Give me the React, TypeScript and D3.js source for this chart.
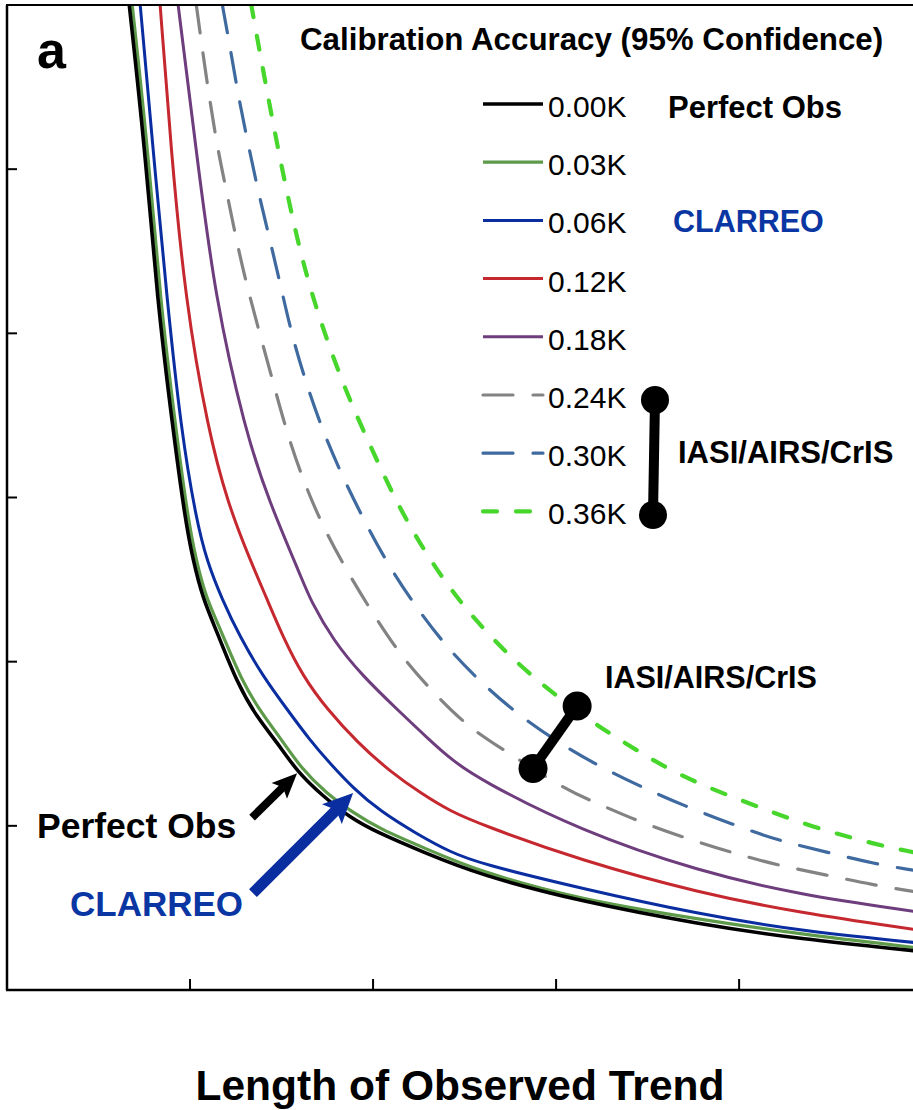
import { useEffect, useRef } from "react";
import * as d3 from "d3";

type Pt = [number, number];

// x = length of trend (years), y = arbitrary units (axis carries no labels)
const xTicks = [10, 20, 30, 40];
const yTicks = [1, 2, 3, 4, 5];

const cal000: Pt[] = [
  [6.67, 6.01], [7.54, 5.12], [8.2, 4.21], [9.07, 3.41], [9.73, 2.87], [10.16, 2.62],
  [10.71, 2.38], [11.48, 2.18], [12.57, 1.87], [13.66, 1.66], [14.75, 1.51], [15.85, 1.33],
  [17.27, 1.18], [18.74, 1.05], [20.22, 0.96], [22.73, 0.84], [25.85, 0.7], [31.31, 0.54],
  [37.87, 0.4], [43.33, 0.31], [49.51, 0.24],
];
const cal003: Pt[] = [
  [6.83, 6.01], [7.7, 5.12], [8.36, 4.21], [9.23, 3.41], [9.89, 2.87], [10.33, 2.62],
  [10.87, 2.39], [11.69, 2.19], [12.79, 1.89], [13.88, 1.69], [14.97, 1.53], [16.07, 1.35],
  [17.43, 1.2], [18.91, 1.08], [20.38, 0.98], [22.9, 0.86], [25.85, 0.72], [31.31, 0.55],
  [37.87, 0.43], [43.33, 0.34], [49.51, 0.26],
];
const cal006: Pt[] = [
  [7.27, 6.01], [7.98, 5.12], [8.74, 4.21], [9.51, 3.41], [10.33, 2.87], [10.93, 2.61],
  [11.75, 2.38], [12.73, 2.15], [13.99, 1.91], [15.3, 1.71], [16.56, 1.52], [17.65, 1.38],
  [18.91, 1.23], [20.38, 1.09], [22.4, 0.95], [24.21, 0.84], [25.85, 0.77], [31.31, 0.62],
  [37.87, 0.46], [43.33, 0.36], [49.51, 0.29],
];
const cal012: Pt[] = [
  [8.36, 6.01], [8.96, 5.12], [9.73, 4.21], [10.98, 3.41], [12.08, 2.96], [13.17, 2.65],
  [14.21, 2.38], [15.08, 2.15], [16.17, 1.91], [17.49, 1.71], [19.13, 1.51], [20.93, 1.33],
  [22.73, 1.19], [24.21, 1.09], [25.85, 1.01], [31.31, 0.79], [37.87, 0.59], [43.33, 0.47],
  [49.51, 0.37],
];
const cal018: Pt[] = [
  [9.34, 6.01], [10.33, 5.12], [11.37, 4.21], [13.01, 3.41], [14.26, 2.99], [16.17, 2.49],
  [16.56, 2.38], [17.81, 2.13], [19.45, 1.91], [21.31, 1.71], [23.11, 1.52], [24.32, 1.4],
  [25.85, 1.28], [31.31, 0.97], [37.87, 0.72], [43.33, 0.58], [49.51, 0.48],
];
const cal024: Pt[] = [
  [10.33, 6.01], [10.71, 5.7], [11.09, 5.41], [11.53, 5.11], [12.08, 4.82], [12.62, 4.52],
  [13.22, 4.24], [13.93, 3.95], [14.64, 3.66], [15.36, 3.37], [16.23, 3.09], [17.27, 2.82],
  [18.58, 2.55], [19.95, 2.3], [21.48, 2.04], [23.22, 1.82], [25.19, 1.6], [27.32, 1.45],
  [30.38, 1.23], [31.97, 1.15], [34.43, 1.03], [36.94, 0.93], [39.51, 0.84], [42.08, 0.76],
  [44.81, 0.7], [47.32, 0.64], [49.51, 0.6],
];
const cal030: Pt[] = [
  [11.75, 6.01], [12.24, 5.71], [12.68, 5.42], [13.22, 5.13], [13.77, 4.84], [14.43, 4.54],
  [15.03, 4.25], [15.63, 3.96], [16.39, 3.68], [17.27, 3.4], [18.36, 3.12], [19.56, 2.85],
  [20.82, 2.59], [22.3, 2.34], [23.93, 2.1], [25.74, 1.89], [27.76, 1.69], [30.22, 1.5],
  [32.24, 1.37], [34.59, 1.24], [37.05, 1.12], [39.62, 1.01], [42.13, 0.91], [44.81, 0.84],
  [47.32, 0.77], [49.51, 0.73],
];
const cal036: Pt[] = [
  [13.33, 6.01], [14.37, 5.37], [15.46, 4.76], [16.56, 4.25], [18.36, 3.68], [19.95, 3.29],
  [21.53, 2.91], [23.55, 2.54], [25.57, 2.25], [28.2, 1.95], [31.31, 1.68], [33.66, 1.51],
  [36.78, 1.3], [40.44, 1.14], [44.04, 0.99], [47.7, 0.88], [49.51, 0.84],
];

const labels = ["0.00K", "0.03K", "0.06K", "0.12K", "0.18K", "0.24K", "0.30K", "0.36K"];
const colors = ["#000000", "#5d9a4a", "#0a2ea0", "#c5282f", "#6e3d7d", "#838383", "#3f6aa0", "#47d62b"];
const dashes = [null, null, null, null, null, "30 20", "30 20", "14 19"];
const widths = [3.6, 3.2, 3, 3, 3, 3.2, 3.2, 4.2];
const seriesData = [cal000, cal003, cal006, cal012, cal018, cal024, cal030, cal036];

// IASI/AIRS/CrIS marker on curves (data units)
const iasiMarker: Pt[] = [[28.74, 1.35], [31.15, 1.73]];
// arrows: [tail, tip]
const perfectArrow: Pt[] = [[13.39, 1.05], [15.85, 1.32]];
const clarreoArrow: Pt[] = [[13.44, 0.59], [18.91, 1.2]];

const FONT = "'Liberation Sans', Arial, Helvetica, sans-serif";
const BLUE_TXT = "#0a36a3";

const App = () => {
  const svgRef = useRef<SVGSVGElement>(null);

  useEffect(() => {
    const svg = d3.select(svgRef.current);
    svg.selectAll("*").remove();

    const width = 913;
    const height = 1110;
    const margin = { top: 5, right: 0, bottom: 120, left: 7 };

    const x = d3.scaleLinear().domain([0, 49.5]).range([margin.left, width - margin.right]);
    const y = d3.scaleLinear().domain([0, 6]).range([height - margin.bottom, margin.top]);

    svg.attr("width", width).attr("height", height).attr("viewBox", `0 0 ${width} ${height}`);
    svg.append("rect").attr("width", width).attr("height", height).attr("fill", "#fff");

    svg.append("defs").append("clipPath").attr("id", "plotclip")
      .append("rect")
      .attr("x", margin.left).attr("y", margin.top)
      .attr("width", width - margin.left - margin.right)
      .attr("height", height - margin.top - margin.bottom);

    const line = d3.line<Pt>().x(d => x(d[0])).y(d => y(d[1])).curve(d3.curveBasis);

    const plot = svg.append("g").attr("clip-path", "url(#plotclip)");
    // draw from the widest-spread series back to black so black sits on top
    for (let i = seriesData.length - 1; i >= 0; i--) {
      plot.append("path")
        .attr("d", line(seriesData[i]))
        .attr("fill", "none")
        .attr("stroke", colors[i])
        .attr("stroke-width", widths[i])
        .attr("stroke-linecap", dashes[i] ? "round" : "butt")
        .attr("stroke-dasharray", dashes[i] ?? null);
    }

    // axes frame
    const ax = svg.append("g").attr("stroke", "#000");
    ax.append("line").attr("x1", x(0)).attr("x2", x(0)).attr("y1", y(6)).attr("y2", y(0)).attr("stroke-width", 2.5);
    ax.append("line").attr("x1", x(0) - 1).attr("x2", width).attr("y1", y(0)).attr("y2", y(0)).attr("stroke-width", 2.5);
    ax.append("line").attr("x1", x(0) - 1).attr("x2", width).attr("y1", y(6)).attr("y2", y(6)).attr("stroke-width", 2);
    yTicks.forEach(t => {
      ax.append("line").attr("x1", x(0)).attr("x2", x(0) + 10).attr("y1", y(t)).attr("y2", y(t)).attr("stroke-width", 2);
    });
    xTicks.forEach(t => {
      ax.append("line").attr("x1", x(t)).attr("x2", x(t)).attr("y1", y(0)).attr("y2", y(0) - 11).attr("stroke-width", 2);
    });

    // panel letter + title
    svg.append("text").attr("x", 37).attr("y", 68).text("a")
      .attr("font-family", FONT).attr("font-weight", "bold").attr("font-size", 52);
    svg.append("text").attr("x", 300).attr("y", 50).text("Calibration Accuracy (95% Confidence)")
      .attr("font-family", FONT).attr("font-weight", "bold").attr("font-size", 31.3);

    // legend
    const leg = svg.append("g");
    labels.forEach((lab, i) => {
      const ly = 104 + i * 58.2;
      leg.append("line")
        .attr("x1", 483).attr("x2", 543).attr("y1", ly).attr("y2", ly)
        .attr("stroke", colors[i])
        .attr("stroke-width", widths[i])
        .attr("stroke-linecap", dashes[i] ? "round" : "butt")
        .attr("stroke-dasharray", dashes[i] ?? null);
      leg.append("text").attr("x", 548).attr("y", ly + 13).text(lab)
        .attr("font-family", FONT).attr("font-size", 30).attr("fill", "#000");
    });
    leg.append("text").attr("x", 668).attr("y", 118).text("Perfect Obs")
      .attr("font-family", FONT).attr("font-weight", "bold").attr("font-size", 31);
    leg.append("text").attr("x", 673).attr("y", 232).text("CLARREO")
      .attr("font-family", FONT).attr("font-weight", "bold").attr("font-size", 30.5).attr("fill", BLUE_TXT);
    leg.append("line").attr("x1", 655).attr("y1", 400).attr("x2", 653).attr("y2", 515)
      .attr("stroke", "#000").attr("stroke-width", 10);
    leg.append("circle").attr("cx", 655).attr("cy", 400).attr("r", 14).attr("fill", "#000");
    leg.append("circle").attr("cx", 653).attr("cy", 515).attr("r", 14).attr("fill", "#000");
    leg.append("text").attr("x", 678).attr("y", 463).text("IASI/AIRS/CrIS")
      .attr("font-family", FONT).attr("font-weight", "bold").attr("font-size", 31);

    // IASI marker on the curves
    svg.append("line")
      .attr("x1", x(iasiMarker[0][0])).attr("y1", y(iasiMarker[0][1]))
      .attr("x2", x(iasiMarker[1][0])).attr("y2", y(iasiMarker[1][1]))
      .attr("stroke", "#000").attr("stroke-width", 10);
    iasiMarker.forEach(p => {
      svg.append("circle").attr("cx", x(p[0])).attr("cy", y(p[1])).attr("r", 14.5).attr("fill", "#000");
    });
    svg.append("text").attr("x", 605).attr("y", 688).text("IASI/AIRS/CrIS")
      .attr("font-family", FONT).attr("font-weight", "bold").attr("font-size", 30.5);

    // arrows
    const drawArrow = (pts: Pt[], color: string, shaft: number, headLen: number, headHalf: number) => {
      const x0 = x(pts[0][0]), y0 = y(pts[0][1]);
      const x1 = x(pts[1][0]), y1 = y(pts[1][1]);
      const ang = Math.atan2(y1 - y0, x1 - x0);
      const bx = x1 - headLen * Math.cos(ang), by = y1 - headLen * Math.sin(ang);
      svg.append("line").attr("x1", x0).attr("y1", y0).attr("x2", bx + Math.cos(ang)).attr("y2", by + Math.sin(ang))
        .attr("stroke", color).attr("stroke-width", shaft);
      const nx = -Math.sin(ang), ny = Math.cos(ang);
      const back = headLen * 0.25;
      const pts2 = [
        [x1, y1],
        [bx - back * Math.cos(ang) + nx * headHalf, by - back * Math.sin(ang) + ny * headHalf],
        [bx, by],
        [bx - back * Math.cos(ang) - nx * headHalf, by - back * Math.sin(ang) - ny * headHalf],
      ];
      svg.append("polygon").attr("points", pts2.map(p => p.join(",")).join(" ")).attr("fill", color);
    };
    drawArrow(perfectArrow, "#000", 8, 20, 11);
    drawArrow(clarreoArrow, "#0a2ea0", 11, 24, 14);

    svg.append("text").attr("x", 37).attr("y", 838).text("Perfect Obs")
      .attr("font-family", FONT).attr("font-weight", "bold").attr("font-size", 35.5);
    svg.append("text").attr("x", 70).attr("y", 916).text("CLARREO")
      .attr("font-family", FONT).attr("font-weight", "bold").attr("font-size", 35).attr("fill", BLUE_TXT);

    // x axis title
    svg.append("text").attr("x", (x(0) + width) / 2).attr("y", 1100).text("Length of Observed Trend")
      .attr("text-anchor", "middle")
      .attr("font-family", FONT).attr("font-weight", "bold").attr("font-size", 42.5);
  }, []);

  return <svg ref={svgRef} style={{ position: "absolute", left: 0, top: 0, display: "block" }}></svg>;
};

export default App;
